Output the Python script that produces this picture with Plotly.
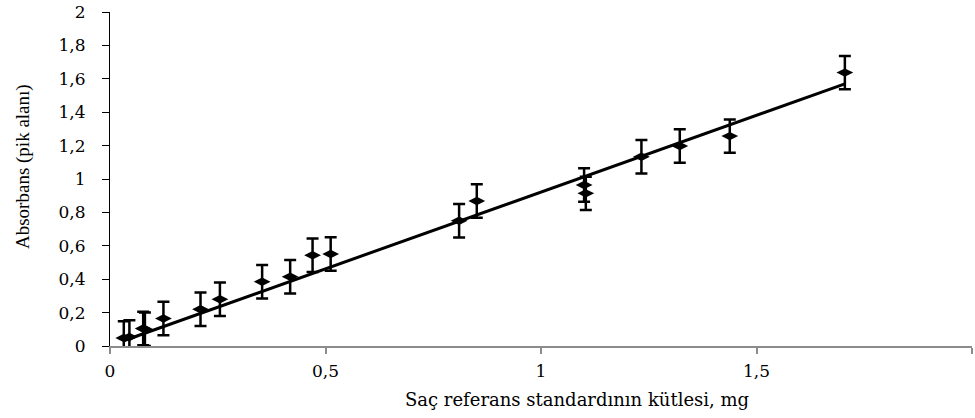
import plotly.graph_objects as go

mass_mg = [0.032, 0.045, 0.077, 0.081, 0.124, 0.21, 0.255, 0.353, 0.418, 0.47, 0.512,
           0.81, 0.851, 1.10, 1.104, 1.233, 1.322, 1.438, 1.705]
absorbance = [0.048, 0.054, 0.105, 0.10, 0.165, 0.22, 0.28, 0.385, 0.415, 0.543, 0.551,
              0.75, 0.868, 0.964, 0.914, 1.133, 1.198, 1.257, 1.637]
error = [0.1] * len(mass_mg)

trend_x = [0.03, 1.705]
trend_y = [0.03, 1.57]

x_ticks = [0, 0.5, 1, 1.5, 2]
y_ticks = [0, 0.2, 0.4, 0.6, 0.8, 1, 1.2, 1.4, 1.6, 1.8, 2]

WIDE = "DejaVu Serif, serif"
NARROW = "Liberation Serif, Times New Roman, serif"

L, R, T, B = 110, 3, 12, 72
PW, PH = 975 - L - R, 418 - T - B

fig = go.Figure()
fig.add_trace(go.Scatter(
    x=trend_x, y=trend_y, mode="lines",
    line=dict(color="black", width=3), showlegend=False, hoverinfo="skip"))
fig.add_trace(go.Scatter(
    x=mass_mg, y=absorbance, mode="markers",
    marker=dict(symbol="diamond-wide", size=12, color="black"),
    error_y=dict(type="data", array=error, visible=True, color="black",
                 thickness=2.5, width=6),
    showlegend=False))

fig.update_layout(
    width=975, height=418,
    margin=dict(l=L, r=R, t=T, b=B),
    plot_bgcolor="white", paper_bgcolor="white",
    separators=",.",
    font=dict(family=WIDE, size=17, color="black"),
    xaxis=dict(range=[0, 2], tickvals=x_ticks, showgrid=False, zeroline=False,
               showline=True, linecolor="#8c8c8c", linewidth=1.5,
               ticks="outside", ticklen=6, tickcolor="#8c8c8c", tickwidth=1.5,
               ticklabelstandoff=3,
               tickfont=dict(family=WIDE, size=17, color="black")),
    yaxis=dict(range=[0, 2], tickvals=y_ticks, showgrid=False, zeroline=False,
               showline=True, linecolor="black", linewidth=1,
               ticks="outside", ticklen=7, tickcolor="black", tickwidth=1,
               ticklabelstandoff=13,
               tickfont=dict(family=WIDE, size=17, color="black")),
    annotations=[
        dict(text="Saç referans standardının kütlesi, mg", xref="paper", yref="paper",
             x=(577 - L) / PW, y=-(399 - (T + PH)) / PH, xanchor="center", yanchor="middle",
             showarrow=False, font=dict(family=WIDE, size=18)),
        dict(text="Absorbans (pik alanı)", xref="paper", yref="paper", textangle=-90,
             x=(23 - L) / PW, y=(T + PH - 167) / PH, xanchor="center", yanchor="middle",
             showarrow=False, font=dict(family=NARROW, size=19)),
    ],
)

fig.write_html("out.html")
